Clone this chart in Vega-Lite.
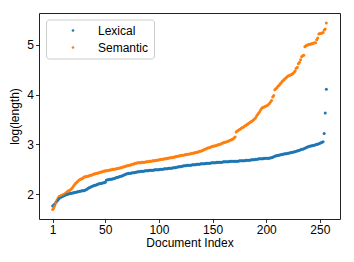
{
  "$schema": "https://vega.github.io/schema/vega-lite/v6.json",
  "autosize": "none",
  "width": 301,
  "height": 206,
  "padding": {"left": 39, "top": 13, "right": 14, "bottom": 43},
  "background": "white",
  "config": {
    "view": {"stroke": "#222222", "strokeWidth": 1},
    "font": "Liberation Sans",
    "axis": {
      "grid": false, "domain": false, "tickColor": "#000000", "tickSize": 3.5, "tickWidth": 0.8,
      "labelColor": "#000000", "labelFont": "Liberation Sans", "labelFontSize": 12, "labelPadding": 2,
      "titleFont": "Liberation Sans", "titleFontSize": 12, "titleFontWeight": "normal", "titleColor": "#000000"
    },
    "legend": {"labelFont": "Liberation Sans"}
  },
  "data": {"values": [
{"i":1,"Lexical":1.76,"Semantic":1.69},{"i":2,"Lexical":1.78,"Semantic":1.72},{"i":3,"Lexical":1.80,"Semantic":1.76},{"i":4,"Lexical":1.83,"Semantic":1.82},{"i":5,"Lexical":1.86,"Semantic":1.88},{"i":6,"Lexical":1.88,"Semantic":1.92},{"i":7,"Lexical":1.91,"Semantic":1.95},{"i":8,"Lexical":1.93,"Semantic":1.96},{"i":9,"Lexical":1.94,"Semantic":1.97},{"i":10,"Lexical":1.95,"Semantic":1.98},
{"i":11,"Lexical":1.96,"Semantic":1.99},{"i":12,"Lexical":1.97,"Semantic":2.00},{"i":13,"Lexical":1.98,"Semantic":2.02},{"i":14,"Lexical":1.99,"Semantic":2.04},{"i":15,"Lexical":2.00,"Semantic":2.06},{"i":16,"Lexical":2.00,"Semantic":2.07},{"i":17,"Lexical":2.01,"Semantic":2.08},{"i":18,"Lexical":2.02,"Semantic":2.10},{"i":19,"Lexical":2.02,"Semantic":2.12},{"i":20,"Lexical":2.03,"Semantic":2.15},
{"i":21,"Lexical":2.03,"Semantic":2.18},{"i":22,"Lexical":2.04,"Semantic":2.21},{"i":23,"Lexical":2.04,"Semantic":2.23},{"i":24,"Lexical":2.05,"Semantic":2.25},{"i":25,"Lexical":2.05,"Semantic":2.27},{"i":26,"Lexical":2.06,"Semantic":2.29},{"i":27,"Lexical":2.06,"Semantic":2.30},{"i":28,"Lexical":2.07,"Semantic":2.31},{"i":29,"Lexical":2.07,"Semantic":2.32},{"i":30,"Lexical":2.07,"Semantic":2.34},
{"i":31,"Lexical":2.08,"Semantic":2.35},{"i":32,"Lexical":2.09,"Semantic":2.35},{"i":33,"Lexical":2.10,"Semantic":2.36},{"i":34,"Lexical":2.12,"Semantic":2.36},{"i":35,"Lexical":2.13,"Semantic":2.37},{"i":36,"Lexical":2.14,"Semantic":2.38},{"i":37,"Lexical":2.15,"Semantic":2.38},{"i":38,"Lexical":2.16,"Semantic":2.39},{"i":39,"Lexical":2.17,"Semantic":2.40},{"i":40,"Lexical":2.18,"Semantic":2.41},
{"i":41,"Lexical":2.18,"Semantic":2.41},{"i":42,"Lexical":2.19,"Semantic":2.42},{"i":43,"Lexical":2.20,"Semantic":2.42},{"i":44,"Lexical":2.21,"Semantic":2.43},{"i":45,"Lexical":2.21,"Semantic":2.44},{"i":46,"Lexical":2.22,"Semantic":2.44},{"i":47,"Lexical":2.22,"Semantic":2.45},{"i":48,"Lexical":2.23,"Semantic":2.46},{"i":49,"Lexical":2.23,"Semantic":2.46},{"i":50,"Lexical":2.24,"Semantic":2.47},
{"i":51,"Lexical":2.28,"Semantic":2.47},{"i":52,"Lexical":2.29,"Semantic":2.47},{"i":53,"Lexical":2.29,"Semantic":2.48},{"i":54,"Lexical":2.30,"Semantic":2.48},{"i":55,"Lexical":2.30,"Semantic":2.49},{"i":56,"Lexical":2.30,"Semantic":2.49},{"i":57,"Lexical":2.31,"Semantic":2.50},{"i":58,"Lexical":2.31,"Semantic":2.50},{"i":59,"Lexical":2.32,"Semantic":2.50},{"i":60,"Lexical":2.33,"Semantic":2.51},
{"i":61,"Lexical":2.34,"Semantic":2.51},{"i":62,"Lexical":2.34,"Semantic":2.52},{"i":63,"Lexical":2.35,"Semantic":2.52},{"i":64,"Lexical":2.36,"Semantic":2.53},{"i":65,"Lexical":2.36,"Semantic":2.53},{"i":66,"Lexical":2.37,"Semantic":2.54},{"i":67,"Lexical":2.38,"Semantic":2.55},{"i":68,"Lexical":2.39,"Semantic":2.55},{"i":69,"Lexical":2.40,"Semantic":2.56},{"i":70,"Lexical":2.41,"Semantic":2.57},
{"i":71,"Lexical":2.41,"Semantic":2.57},{"i":72,"Lexical":2.42,"Semantic":2.58},{"i":73,"Lexical":2.42,"Semantic":2.58},{"i":74,"Lexical":2.42,"Semantic":2.59},{"i":75,"Lexical":2.43,"Semantic":2.60},{"i":76,"Lexical":2.43,"Semantic":2.60},{"i":77,"Lexical":2.43,"Semantic":2.61},{"i":78,"Lexical":2.44,"Semantic":2.62},{"i":79,"Lexical":2.44,"Semantic":2.62},{"i":80,"Lexical":2.45,"Semantic":2.63},
{"i":81,"Lexical":2.45,"Semantic":2.63},{"i":82,"Lexical":2.45,"Semantic":2.63},{"i":83,"Lexical":2.46,"Semantic":2.63},{"i":84,"Lexical":2.46,"Semantic":2.64},{"i":85,"Lexical":2.46,"Semantic":2.64},{"i":86,"Lexical":2.46,"Semantic":2.64},{"i":87,"Lexical":2.47,"Semantic":2.64},{"i":88,"Lexical":2.47,"Semantic":2.65},{"i":89,"Lexical":2.47,"Semantic":2.65},{"i":90,"Lexical":2.47,"Semantic":2.65},
{"i":91,"Lexical":2.48,"Semantic":2.66},{"i":92,"Lexical":2.48,"Semantic":2.66},{"i":93,"Lexical":2.48,"Semantic":2.66},{"i":94,"Lexical":2.48,"Semantic":2.67},{"i":95,"Lexical":2.48,"Semantic":2.67},{"i":96,"Lexical":2.49,"Semantic":2.67},{"i":97,"Lexical":2.49,"Semantic":2.68},{"i":98,"Lexical":2.49,"Semantic":2.68},{"i":99,"Lexical":2.49,"Semantic":2.68},{"i":100,"Lexical":2.49,"Semantic":2.69},
{"i":101,"Lexical":2.50,"Semantic":2.69},{"i":102,"Lexical":2.50,"Semantic":2.70},{"i":103,"Lexical":2.50,"Semantic":2.70},{"i":104,"Lexical":2.50,"Semantic":2.70},{"i":105,"Lexical":2.51,"Semantic":2.71},{"i":106,"Lexical":2.51,"Semantic":2.71},{"i":107,"Lexical":2.51,"Semantic":2.71},{"i":108,"Lexical":2.51,"Semantic":2.72},{"i":109,"Lexical":2.52,"Semantic":2.72},{"i":110,"Lexical":2.52,"Semantic":2.73},
{"i":111,"Lexical":2.52,"Semantic":2.73},{"i":112,"Lexical":2.52,"Semantic":2.73},{"i":113,"Lexical":2.53,"Semantic":2.74},{"i":114,"Lexical":2.53,"Semantic":2.74},{"i":115,"Lexical":2.53,"Semantic":2.75},{"i":116,"Lexical":2.54,"Semantic":2.75},{"i":117,"Lexical":2.54,"Semantic":2.76},{"i":118,"Lexical":2.55,"Semantic":2.76},{"i":119,"Lexical":2.55,"Semantic":2.77},{"i":120,"Lexical":2.55,"Semantic":2.77},
{"i":121,"Lexical":2.56,"Semantic":2.78},{"i":122,"Lexical":2.56,"Semantic":2.78},{"i":123,"Lexical":2.57,"Semantic":2.78},{"i":124,"Lexical":2.57,"Semantic":2.79},{"i":125,"Lexical":2.57,"Semantic":2.79},{"i":126,"Lexical":2.58,"Semantic":2.80},{"i":127,"Lexical":2.58,"Semantic":2.80},{"i":128,"Lexical":2.58,"Semantic":2.80},{"i":129,"Lexical":2.58,"Semantic":2.81},{"i":130,"Lexical":2.58,"Semantic":2.81},
{"i":131,"Lexical":2.59,"Semantic":2.82},{"i":132,"Lexical":2.59,"Semantic":2.82},{"i":133,"Lexical":2.59,"Semantic":2.83},{"i":134,"Lexical":2.59,"Semantic":2.83},{"i":135,"Lexical":2.60,"Semantic":2.84},{"i":136,"Lexical":2.60,"Semantic":2.84},{"i":137,"Lexical":2.60,"Semantic":2.85},{"i":138,"Lexical":2.60,"Semantic":2.86},{"i":139,"Lexical":2.61,"Semantic":2.86},{"i":140,"Lexical":2.61,"Semantic":2.87},
{"i":141,"Lexical":2.61,"Semantic":2.88},{"i":142,"Lexical":2.61,"Semantic":2.89},{"i":143,"Lexical":2.61,"Semantic":2.90},{"i":144,"Lexical":2.62,"Semantic":2.91},{"i":145,"Lexical":2.62,"Semantic":2.92},{"i":146,"Lexical":2.62,"Semantic":2.93},{"i":147,"Lexical":2.62,"Semantic":2.93},{"i":148,"Lexical":2.62,"Semantic":2.94},{"i":149,"Lexical":2.63,"Semantic":2.95},{"i":150,"Lexical":2.63,"Semantic":2.96},
{"i":151,"Lexical":2.63,"Semantic":2.96},{"i":152,"Lexical":2.63,"Semantic":2.97},{"i":153,"Lexical":2.63,"Semantic":2.97},{"i":154,"Lexical":2.64,"Semantic":2.98},{"i":155,"Lexical":2.64,"Semantic":2.99},{"i":156,"Lexical":2.64,"Semantic":2.99},{"i":157,"Lexical":2.64,"Semantic":3.00},{"i":158,"Lexical":2.64,"Semantic":3.01},{"i":159,"Lexical":2.64,"Semantic":3.02},{"i":160,"Lexical":2.65,"Semantic":3.03},
{"i":161,"Lexical":2.65,"Semantic":3.04},{"i":162,"Lexical":2.65,"Semantic":3.04},{"i":163,"Lexical":2.65,"Semantic":3.05},{"i":164,"Lexical":2.65,"Semantic":3.06},{"i":165,"Lexical":2.65,"Semantic":3.07},{"i":166,"Lexical":2.66,"Semantic":3.08},{"i":167,"Lexical":2.66,"Semantic":3.09},{"i":168,"Lexical":2.66,"Semantic":3.10},{"i":169,"Lexical":2.66,"Semantic":3.11},{"i":170,"Lexical":2.66,"Semantic":3.13},
{"i":171,"Lexical":2.66,"Semantic":3.15},{"i":172,"Lexical":2.66,"Semantic":3.25},{"i":173,"Lexical":2.66,"Semantic":3.27},{"i":174,"Lexical":2.66,"Semantic":3.28},{"i":175,"Lexical":2.67,"Semantic":3.30},{"i":176,"Lexical":2.67,"Semantic":3.31},{"i":177,"Lexical":2.67,"Semantic":3.33},{"i":178,"Lexical":2.67,"Semantic":3.34},{"i":179,"Lexical":2.67,"Semantic":3.35},{"i":180,"Lexical":2.67,"Semantic":3.37},
{"i":181,"Lexical":2.68,"Semantic":3.38},{"i":182,"Lexical":2.68,"Semantic":3.40},{"i":183,"Lexical":2.68,"Semantic":3.41},{"i":184,"Lexical":2.68,"Semantic":3.43},{"i":185,"Lexical":2.68,"Semantic":3.44},{"i":186,"Lexical":2.69,"Semantic":3.46},{"i":187,"Lexical":2.69,"Semantic":3.47},{"i":188,"Lexical":2.69,"Semantic":3.49},{"i":189,"Lexical":2.69,"Semantic":3.51},{"i":190,"Lexical":2.70,"Semantic":3.53},
{"i":191,"Lexical":2.70,"Semantic":3.57},{"i":192,"Lexical":2.70,"Semantic":3.60},{"i":193,"Lexical":2.71,"Semantic":3.63},{"i":194,"Lexical":2.71,"Semantic":3.66},{"i":195,"Lexical":2.71,"Semantic":3.70},{"i":196,"Lexical":2.71,"Semantic":3.73},{"i":197,"Lexical":2.71,"Semantic":3.74},{"i":198,"Lexical":2.72,"Semantic":3.75},{"i":199,"Lexical":2.72,"Semantic":3.76},{"i":200,"Lexical":2.72,"Semantic":3.77},
{"i":201,"Lexical":2.72,"Semantic":3.78},{"i":202,"Lexical":2.72,"Semantic":3.80},{"i":203,"Lexical":2.72,"Semantic":3.82},{"i":204,"Lexical":2.73,"Semantic":3.85},{"i":205,"Lexical":2.73,"Semantic":3.88},{"i":206,"Lexical":2.74,"Semantic":3.95},{"i":207,"Lexical":2.75,"Semantic":3.98},{"i":208,"Lexical":2.76,"Semantic":4.10},{"i":209,"Lexical":2.77,"Semantic":4.12},{"i":210,"Lexical":2.77,"Semantic":4.14},
{"i":211,"Lexical":2.78,"Semantic":4.17},{"i":212,"Lexical":2.78,"Semantic":4.19},{"i":213,"Lexical":2.79,"Semantic":4.22},{"i":214,"Lexical":2.79,"Semantic":4.24},{"i":215,"Lexical":2.80,"Semantic":4.27},{"i":216,"Lexical":2.80,"Semantic":4.29},{"i":217,"Lexical":2.81,"Semantic":4.31},{"i":218,"Lexical":2.81,"Semantic":4.33},{"i":219,"Lexical":2.81,"Semantic":4.35},{"i":220,"Lexical":2.82,"Semantic":4.37},
{"i":221,"Lexical":2.82,"Semantic":4.38},{"i":222,"Lexical":2.83,"Semantic":4.39},{"i":223,"Lexical":2.83,"Semantic":4.40},{"i":224,"Lexical":2.84,"Semantic":4.41},{"i":225,"Lexical":2.84,"Semantic":4.43},{"i":226,"Lexical":2.85,"Semantic":4.45},{"i":227,"Lexical":2.85,"Semantic":4.48},{"i":228,"Lexical":2.86,"Semantic":4.53},{"i":229,"Lexical":2.87,"Semantic":4.55},{"i":230,"Lexical":2.87,"Semantic":4.62},
{"i":231,"Lexical":2.88,"Semantic":4.65},{"i":232,"Lexical":2.89,"Semantic":4.70},{"i":233,"Lexical":2.90,"Semantic":4.76},{"i":234,"Lexical":2.90,"Semantic":4.78},{"i":235,"Lexical":2.91,"Semantic":4.79},{"i":236,"Lexical":2.92,"Semantic":4.96},{"i":237,"Lexical":2.93,"Semantic":4.98},{"i":238,"Lexical":2.94,"Semantic":4.99},{"i":239,"Lexical":2.95,"Semantic":5.00},{"i":240,"Lexical":2.96,"Semantic":5.01},
{"i":241,"Lexical":2.96,"Semantic":5.01},{"i":242,"Lexical":2.97,"Semantic":5.02},{"i":243,"Lexical":2.97,"Semantic":5.02},{"i":244,"Lexical":2.98,"Semantic":5.03},{"i":245,"Lexical":2.98,"Semantic":5.04},{"i":246,"Lexical":2.99,"Semantic":5.04},{"i":247,"Lexical":3.00,"Semantic":5.10},{"i":248,"Lexical":3.00,"Semantic":5.14},{"i":249,"Lexical":3.01,"Semantic":5.22},{"i":250,"Lexical":3.02,"Semantic":5.23},
{"i":251,"Lexical":3.03,"Semantic":5.23},{"i":252,"Lexical":3.04,"Semantic":5.24},{"i":253,"Lexical":3.05,"Semantic":5.25},{"i":254,"Lexical":3.22,"Semantic":5.30},{"i":255,"Lexical":3.63,"Semantic":5.32},{"i":256,"Lexical":4.11,"Semantic":5.44}
  ]},
  "transform": [{"fold": ["Lexical", "Semantic"], "as": ["series", "v"]}],
  "mark": {"type": "circle", "size": 9, "opacity": 1, "strokeWidth": 0},
  "encoding": {
    "x": {"field": "i", "type": "quantitative", "title": "Document Index",
      "scale": {"domain": [-11.75, 268.75], "nice": false, "zero": false},
      "axis": {"values": [1, 50, 100, 150, 200, 250], "titlePadding": 2}},
    "y": {"field": "v", "type": "quantitative", "title": "log(length)",
      "scale": {"domain": [1.5, 5.64], "nice": false, "zero": false},
      "axis": {"values": [2, 3, 4, 5], "titlePadding": 5}},
    "color": {"field": "series", "type": "nominal",
      "scale": {"domain": ["Lexical", "Semantic"], "range": ["#1f77b4", "#ff7f0e"]},
      "legend": {"title": null, "orient": "none", "legendX": 7, "legendY": 6.5,
        "fillColor": "white", "strokeColor": "#cccccc", "cornerRadius": 3, "padding": 5,
        "symbolType": "circle", "symbolSize": 7, "symbolOffset": 16, "labelOffset": 19,
        "columnPadding": 0,
        "labelFontSize": 12, "labelColor": "#000000", "rowPadding": 5}}
  }
}
